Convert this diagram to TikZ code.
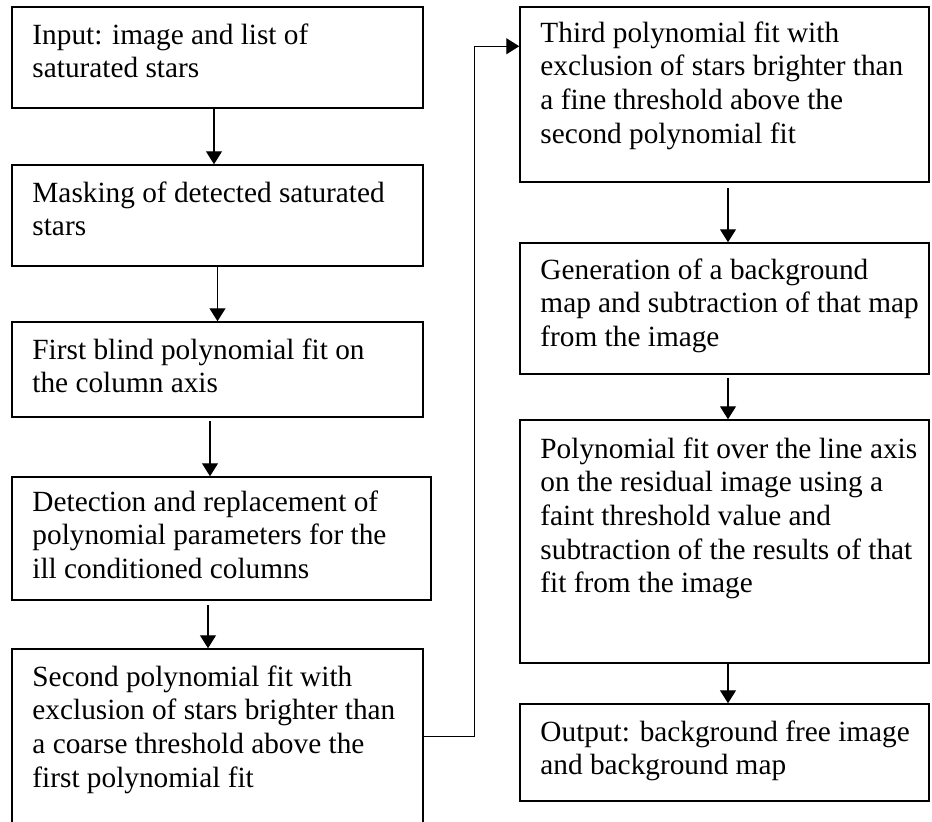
\documentclass[tikz,border=0pt]{standalone}
\usepackage{fontspec}
\setmainfont{Liberation Serif}
\usetikzlibrary{arrows.meta,calc}
\begin{document}
\begin{tikzpicture}[x=1pt,y=-1pt,
  box/.style={draw,line width=1.5pt,inner sep=0,minimum width=#1},
  txt/.style={anchor=base west,inner sep=0,font=\fontsize{29.3}{33.6}\selectfont},
  arr/.style={line width=1.3pt,-{Triangle[width=16pt,length=13pt]}}]
\useasboundingbox (0,0) rectangle (932,822);
\clip (0,0) rectangle (932,822);
% left column
\node[box=411,minimum height=101] (b1) at (217.5,57.5) {};
\node[box=411,minimum height=101] (b2) at (217.5,215.5) {};
\node[box=411,minimum height=95] (b3) at (217.5,369.5) {};
\node[box=419,minimum height=123] (b4) at (221.5,538.5) {};
\node[box=411,minimum height=211] (b5) at (217.5,754.5) {};
% right column
\node[box=409,minimum height=175] (r1) at (724.5,94.5) {};
\node[box=409,minimum height=131] (r2) at (724.5,308.5) {};
\node[box=409,minimum height=243] (r3) at (724.5,541.5) {};
\node[box=409,minimum height=97] (r4) at (724.5,752.5) {};
% texts
\node[txt] (t1) at ($(b1.north west)+(21,38)$) {\parbox[t]{400pt}{\raggedright Input: image and list of\\ saturated stars}};
\node[txt] (t2) at ($(b2.north west)+(21,38)$) {\parbox[t]{400pt}{\raggedright Masking of detected saturated\\ stars}};
\node[txt] (t3) at ($(b3.north west)+(21,38)$) {\parbox[t]{400pt}{\raggedright First blind polynomial fit on\\ the column axis}};
\node[txt] (t4) at ($(b4.north west)+(21,35)$) {\parbox[t]{400pt}{\raggedright Detection and replacement of\\ polynomial parameters for the\\ ill conditioned columns}};
\node[txt] (t5) at ($(b5.north west)+(21,38)$) {\parbox[t]{400pt}{\raggedright Second polynomial fit with\\ exclusion of stars brighter than\\ a coarse threshold above the\\ first polynomial fit}};
\node[txt] (u1) at ($(r1.north west)+(21,36)$) {\parbox[t]{400pt}{\raggedright Third polynomial fit with\\ exclusion of stars brighter than\\ a fine threshold above the\\ second polynomial fit}};
\node[txt] (u2) at ($(r2.north west)+(21,37)$) {\parbox[t]{400pt}{\raggedright Generation of a background\\ map and subtraction of that map\\ from the image}};
\node[txt] (u3) at ($(r3.north west)+(21,39)$) {\parbox[t]{400pt}{\raggedright Polynomial fit over the line axis\\ on the residual image using a\\ faint threshold value and\\ subtraction of the results of that\\ fit from the image}};
\node[txt] (u4) at ($(r4.north west)+(21,38)$) {\parbox[t]{400pt}{\raggedright Output: background free image\\ and background map}};
% arrows
\draw[arr] ([xshift=-3.5pt]b1.south) -- ([xshift=-3.5pt]b2.north);
\draw[arr] (b2.south) -- (b3.north);
\draw[arr,shorten <=3pt] ([xshift=-7.5pt]b3.south) -- ([xshift=-7.5pt]b3.south |- b4.north);
\draw[arr,shorten <=4pt] ([xshift=-9.5pt]b5.north |- b4.south) -- ([xshift=-9.5pt]b5.north);
\draw[arr] ([yshift=-88pt]b5.north east) -- ++(51,0) |- ([yshift=-40pt]r1.north west);
\draw[arr,shorten <=5pt] ([xshift=3.5pt]r1.south) -- ([xshift=3.5pt]r2.north);
\draw[arr,shorten <=3pt] ([xshift=3.5pt]r2.south) -- ([xshift=3.5pt]r3.north);
\draw[arr] ([xshift=3.5pt]r3.south) -- ([xshift=3.5pt]r4.north);
\end{tikzpicture}
\end{document}
